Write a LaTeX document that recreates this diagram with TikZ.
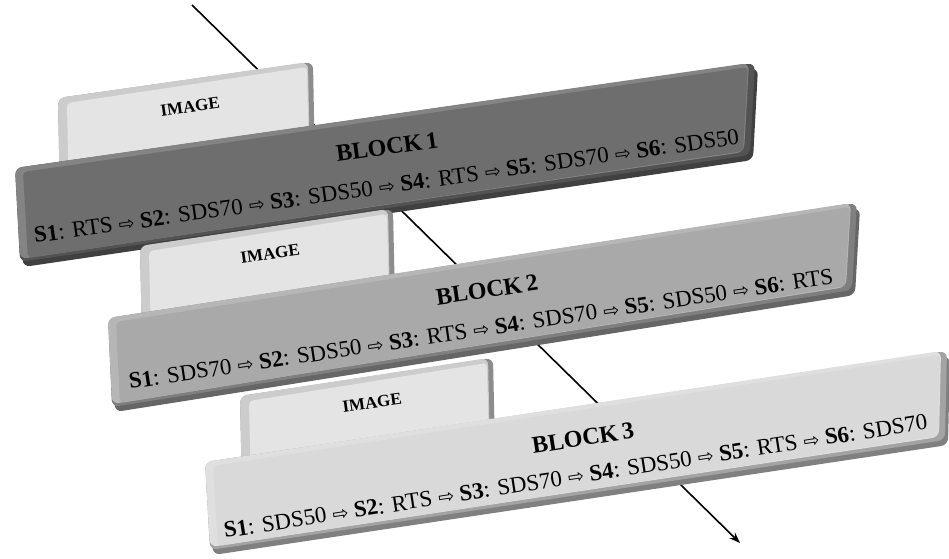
\documentclass[tikz,border=0pt]{standalone}
\usepackage{fontspec}
\setmainfont{Liberation Serif}
\newfontfamily\arrowfont{DejaVu Sans}
\usetikzlibrary{calc,arrows.meta}

\definecolor{blockone}{HTML}{6E6E6E}
\definecolor{blocktwo}{HTML}{A9A9A9}
\definecolor{blockthree}{HTML}{D9D9D9}
\definecolor{imagepanel}{HTML}{E4E4E4}

\newcommand{\nxt}{\ {\arrowfont\fontsize{19}{19}\selectfont ⇨}\ }

\tikzset{
  seqtext/.style={anchor=base west, inner sep=0pt, font=\fontsize{23}{25}\selectfont},
  titletext/.style={inner sep=0pt, font=\bfseries\fontsize{24}{26}\selectfont},
  imgtext/.style={inner sep=0pt, font=\bfseries\fontsize{17}{19}\selectfont},
  flowline/.style={line width=1.6pt, -{Stealth[length=11pt,width=8pt]}}
}

\begin{document}
\begin{tikzpicture}[x=1pt,y=-1pt]
    \useasboundingbox (0,0) rectangle (949,558);
    % the axis runs behind all panels
    \coordinate (axtop) at (192,5);
    \coordinate (axtip) at (740,543);
    \draw[flowline] (axtop) -- (axtip);
    % image panel behind each block, then the block itself
    \foreach \k/\itl/\itr/\ibr/\ibl/\tl/\tr/\br/\bl/\face/\side in {
        1/{58,98}/{313,62}/{315,170}/{60,200}/{15,168}/{755,63}/{750,155}/{20,262}/blockone/black!75,
        2/{140,246}/{393,209}/{395,300}/{142,340}/{108,318}/{857,203}/{852,290}/{112,407}/blocktwo/black!60,
        3/{240,396}/{493,358}/{495,450}/{242,490}/{205,462}/{947,351}/{945,440}/{210,550}/blockthree/black!50
    } {
        % image panel
        \fill[black!45, rounded corners=7pt] (\itl) -- (\itr) -- (\ibr) -- (\ibl) -- cycle;
        \fill[black!20, rounded corners=7pt] (\itl) -- ($(\itr)+(-5,0)$) -- ($(\ibr)+(-5,0)$) -- (\ibl) -- cycle;
        \fill[imagepanel, rounded corners=4pt] ($(\itl)+(9,5)$) -- ($(\itr)+(-6,5)$) -- ($(\ibr)+(-6,0)$) -- ($(\ibl)+(9,0)$) -- cycle;
        % block
        \fill[\side, rounded corners=7pt] ($(\tl)+(3,5)$) -- ($(\tr)+(3,5)$) -- ($(\br)+(3,5)$) -- ($(\bl)+(3,5)$) -- cycle;
        \fill[\face!75!black, rounded corners=7pt] (\tl) -- (\tr) -- (\br) -- (\bl) -- cycle;
        \fill[\face!85!white, rounded corners=7pt] (\tl) -- ($(\tr)+(-6,0)$) -- ($(\br)+(-6,-3)$) -- ($(\bl)+(0,-3)$) -- cycle;
        \fill[\face, rounded corners=4pt] ($(\tl)+(8,4)$) -- ($(\tr)+(-7,4)$) -- ($(\br)+(-7,-4)$) -- ($(\bl)+(8,-4)$) -- cycle;
    }
    % labels
    \node[imgtext, rotate=8] (img1) at (190,107) {IMAGE};
    \node[imgtext, rotate=8] (img2) at (270,254) {IMAGE};
    \node[imgtext, rotate=8] (img3) at (372,403) {IMAGE};
    \node[titletext, rotate=8] (title1) at (387,147) {BLOCK\,1};
    \node[titletext, rotate=8.5] (title2) at (487,290) {BLOCK\,2};
    \node[titletext, rotate=8.8] (title3) at (583,438) {BLOCK\,3};
    % stage sequences, one piece per stage
    \foreach \blk/\ang/\sx/\sy/\seq in {
        1/8/35/243/{RTS,SDS70,SDS50,RTS,SDS70,SDS50},
        2/8.5/130/389/{SDS70,SDS50,RTS,SDS70,SDS50,RTS},
        3/8.8/225/538/{SDS50,RTS,SDS70,SDS50,RTS,SDS70}%
    } {
        \coordinate (s\blk-0) at (\sx,\sy);
        \foreach \v [count=\i, remember=\i as \j (initially 0)] in \seq {
            \node[seqtext, rotate=\ang] (c\blk-\i) at (s\blk-\j)
                {\ifnum\i>1\nxt\fi\textbf{S\i}: \v};
            \coordinate (s\blk-\i) at (c\blk-\i.base east);
        }
    }
\end{tikzpicture}
\end{document}
